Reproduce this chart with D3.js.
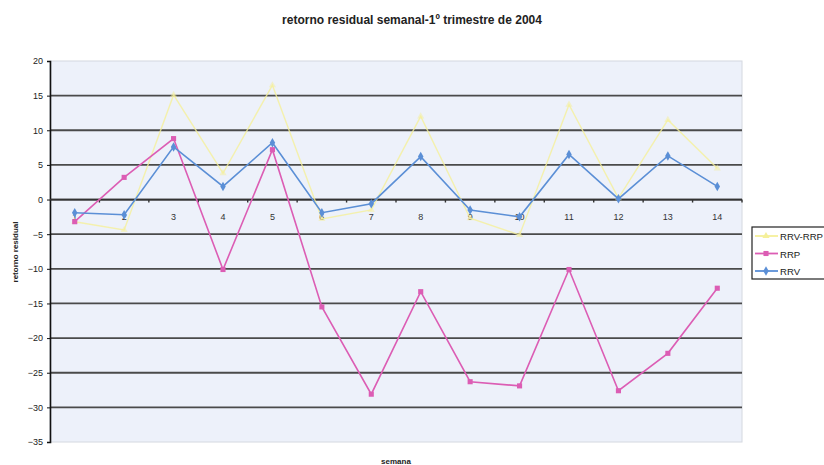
<!DOCTYPE html>
<html>
<head>
<meta charset="utf-8">
<script src="https://cdn.jsdelivr.net/npm/d3@7"></script>
<style>
  html, body { margin: 0; padding: 0; background: #ffffff; }
  svg { display: block; font-family: "Liberation Sans", Arial, sans-serif; }
</style>
</head>
<body>
<svg id="chart" width="824" height="465"></svg>
<script>
// Weeks of the first quarter
const semanas = ["1","2","3","4","5","6","7","8","9","10","11","12","13","14"];

// Weekly residual returns
const rrvRrp = [-3.2, -4.4, 15.1, 3.8, 16.5, -2.8, -1.5, 12.0, -2.7, -5.1, 13.7, 0.2, 11.5, 4.5];
const rrp    = [-3.2, 3.2, 8.8, -10.1, 7.2, -15.5, -28.1, -13.3, -26.3, -26.9, -10.1, -27.6, -22.2, -12.8];
const rrv    = [-1.9, -2.2, 7.6, 1.9, 8.2, -1.9, -0.6, 6.2, -1.5, -2.5, 6.5, 0.1, 6.3, 1.9];

const yTicks = [20, 15, 10, 5, 0, -5, -10, -15, -20, -25, -30, -35];

const seriesNames = ["RRV-RRP", "RRP", "RRV"];
const seriesColors = { "RRV-RRP": "#f5f09a", "RRP": "#dc5db4", "RRV": "#5b8fd6" };

const svg = d3.select("#chart");

const plot = { left: 50, right: 742, top: 61, bottom: 442 };

const x = d3.scaleBand().domain(semanas).range([plot.left, plot.right]).padding(0);
const y = d3.scaleLinear().domain([-35, 20]).range([plot.bottom, plot.top]);

// Title
svg.append("text")
  .attr("x", 412).attr("y", 24)
  .attr("text-anchor", "middle")
  .attr("font-size", 12).attr("font-weight", "bold")
  .attr("fill", "#222")
  .text("retorno residual semanal-1º trimestre de 2004");

// Plot background
svg.append("rect")
  .attr("x", plot.left).attr("y", plot.top)
  .attr("width", plot.right - plot.left).attr("height", plot.bottom - plot.top)
  .attr("fill", "#edf1fa")
  .attr("stroke", "#d4d8e0").attr("stroke-width", 1);

// Horizontal gridlines
svg.append("g")
  .selectAll("line")
  .data(yTicks.filter(t => t !== 20 && t !== -35))
  .join("line")
  .attr("x1", plot.left).attr("x2", plot.right)
  .attr("y1", d => y(d)).attr("y2", d => y(d))
  .attr("stroke", "#4a4a4a").attr("stroke-width", 1.8);

// Value axis
const yAxis = d3.axisLeft(y).tickValues(yTicks).tickSize(3).tickPadding(4).tickFormat(d3.format("d"));
const gy = svg.append("g")
  .attr("transform", `translate(${plot.left},0)`)
  .call(yAxis);
gy.select(".domain").attr("stroke", "#111").attr("stroke-width", 1.6);
gy.selectAll(".tick line").attr("stroke", "#111");
gy.selectAll(".tick text").attr("font-size", 9).attr("fill", "#222");

// Category axis along zero
const gx = svg.append("g")
  .attr("transform", `translate(0,${y(0)})`);
gx.append("line")
  .attr("x1", plot.left).attr("x2", plot.right)
  .attr("y1", 0).attr("y2", 0)
  .attr("stroke", "#333").attr("stroke-width", 1.8);
const boundaries = semanas.map(s => x(s)).concat([x(semanas[semanas.length - 1]) + x.bandwidth()]).slice(1);
gx.selectAll("line.tk")
  .data(boundaries)
  .join("line")
  .attr("class", "tk")
  .attr("x1", d => d).attr("x2", d => d)
  .attr("y1", 0).attr("y2", 3)
  .attr("stroke", "#333").attr("stroke-width", 1.4);
gx.selectAll("text")
  .data(semanas)
  .join("text")
  .attr("x", d => x(d) + x.bandwidth() / 2)
  .attr("y", 20)
  .attr("text-anchor", "middle")
  .attr("font-size", 9)
  .attr("fill", "#333")
  .text(d => d);

// Axis titles
svg.append("text")
  .attr("transform", `translate(18,252) rotate(-90)`)
  .attr("text-anchor", "middle")
  .attr("font-size", 8).attr("font-weight", "bold")
  .attr("fill", "#222")
  .text("retorno residual");

svg.append("text")
  .attr("x", (plot.left + plot.right) / 2).attr("y", 464)
  .attr("text-anchor", "middle")
  .attr("font-size", 8).attr("font-weight", "bold")
  .attr("fill", "#222")
  .text("semana");

// Series
const line = d3.line()
  .x((d, i) => x(semanas[i]) + x.bandwidth() / 2)
  .y(d => y(d));

const seriesData = { "RRV-RRP": rrvRrp, "RRP": rrp, "RRV": rrv };

const symbolOf = {
  "RRV-RRP": d3.symbol().type(d3.symbolTriangle).size(22),
  "RRP": d3.symbol().type(d3.symbolSquare).size(26),
  "RRV": d3.symbol().type(d3.symbolDiamond).size(26)
};

seriesNames.forEach(name => {
  const vals = seriesData[name];
  const g = svg.append("g");
  g.append("path")
    .datum(vals)
    .attr("d", line)
    .attr("fill", "none")
    .attr("stroke", seriesColors[name])
    .attr("stroke-width", name === "RRV-RRP" ? 1.4 : 1.6)
    .attr("opacity", name === "RRV-RRP" ? 0.8 : 1);
  g.selectAll("path.m")
    .data(vals)
    .join("path")
    .attr("class", "m")
    .attr("d", symbolOf[name])
    .attr("transform", (d, i) => `translate(${x(semanas[i]) + x.bandwidth() / 2},${y(d)})`)
    .attr("fill", seriesColors[name])
    .attr("opacity", name === "RRV-RRP" ? 0.5 : 1);
});

// Legend
const legend = svg.append("g");
legend.append("rect")
  .attr("x", 752).attr("y", 227)
  .attr("width", 90).attr("height", 52)
  .attr("fill", "#ffffff")
  .attr("stroke", "#222").attr("stroke-width", 1.2);
seriesNames.forEach((name, i) => {
  const ly = 236 + i * 17.5;
  legend.append("line")
    .attr("x1", 755).attr("x2", 778)
    .attr("y1", ly).attr("y2", ly)
    .attr("stroke", seriesColors[name]).attr("stroke-width", 1.8);
  legend.append("path")
    .attr("d", symbolOf[name])
    .attr("transform", `translate(766,${ly})`)
    .attr("fill", seriesColors[name]);
  legend.append("text")
    .attr("x", 780).attr("y", ly + 4)
    .attr("font-size", 9.6)
    .attr("fill", "#222")
    .text(name);
});
</script>
</body>
</html>
